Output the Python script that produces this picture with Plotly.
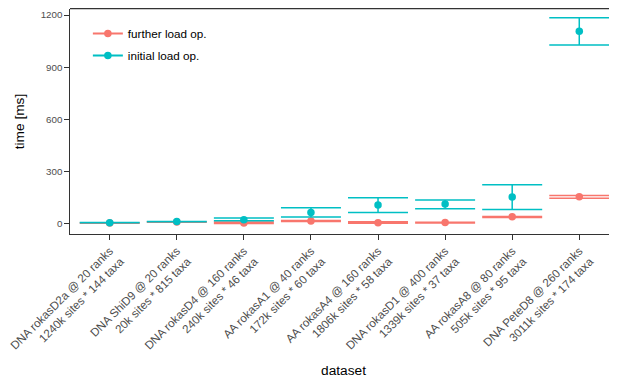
import plotly.graph_objects as go

categories = [
    "DNA rokasD2a @ 20 ranks<br>1240k sites * 144 taxa",
    "DNA ShiD9 @ 20 ranks<br>20k sites * 815 taxa",
    "DNA rokasD4 @ 160 ranks<br>240k sites * 46 taxa",
    "AA rokasA1 @ 40 ranks<br>172k sites * 60 taxa",
    "AA rokasA4 @ 160 ranks<br>1806k sites * 58 taxa",
    "DNA rokasD1 @ 400 ranks<br>1339k sites * 37 taxa",
    "AA rokasA8 @ 80 ranks<br>505k sites * 95 taxa",
    "DNA PeteD8 @ 260 ranks<br>3011k sites * 174 taxa",
]

further_mean = [4, 10, 4, 15, 6, 7, 40, 155]
further_lo = [3, 9, 1, 12, 2, 4, 35, 147]
further_hi = [5, 11, 10, 19, 11, 9, 42, 162]

initial_mean = [6, 12, 23, 65, 107, 113, 153, 1106]
initial_lo = [5, 11, 17, 38, 65, 86, 82, 1027]
initial_hi = [7, 13, 33, 92, 149, 136, 224, 1184]

series_names = ["further load op.", "initial load op."]
colors = ["#F8766D", "#00BFC4"]

# page has an 8px body margin, so the figure is laid out 8px smaller
W, H = 609, 373
ML, MR, MT, MB = 58, 0, 1, 147
plot_w = W - ML - MR
plot_h = H - MT - MB

x_idx = list(range(len(categories)))

fig = go.Figure()
for name, col, mean, lo, hi in [
    (series_names[0], colors[0], further_mean, further_lo, further_hi),
    (series_names[1], colors[1], initial_mean, initial_lo, initial_hi),
]:
    fig.add_trace(go.Scatter(
        x=x_idx, y=mean, mode="markers", name=name, showlegend=False,
        marker=dict(color=col, size=7.5),
        error_y=dict(type="data", symmetric=False,
                     array=[h - m for h, m in zip(hi, mean)],
                     arrayminus=[m - l for m, l in zip(mean, lo)],
                     color=col, thickness=1.5, width=30),
        cliponaxis=False,
    ))
for name, col in zip(series_names, colors):
    fig.add_trace(go.Scatter(
        x=[None], y=[None], mode="lines+markers", name=name,
        legendgroup=name,
        line=dict(color=col, width=2), marker=dict(color=col, size=7.5),
    ))

def py(px):
    return 1 - (px - MT) / plot_h

def pxx(px):
    return (px - ML) / plot_w

shapes = [
    dict(type="line", xref="paper", yref="paper", x0=0, x1=1, y0=py(0.6), y1=py(0.6),
         line=dict(color="#333333", width=1.2)),
]

fig.update_layout(
    width=W, height=H,
    margin=dict(l=ML, r=MR, t=MT, b=MB, pad=0),
    paper_bgcolor="white", plot_bgcolor="white",
    font=dict(family="Liberation Sans, Arial, sans-serif", color="black"),
    showlegend=True,
    legend=dict(x=pxx(76), y=py(11), xanchor="left", yanchor="top",
                bgcolor="rgba(0,0,0,0)", font=dict(size=11.7, color="black"),
                tracegroupgap=3, itemwidth=30),
    shapes=shapes,
    xaxis=dict(
        tickmode="array", tickvals=x_idx, ticktext=categories,
        range=[-40 / 67.57, (plot_w - 40) / 67.57],
        tickangle=-45, tickfont=dict(size=11.6, color="#4D4D4D"),
        ticklabeloverflow="allow",
        ticks="outside", ticklen=4.5, tickcolor="#333333", tickwidth=1,
        showline=True, linecolor="#333333", linewidth=1.2,
        showgrid=False, zeroline=False,
        title=dict(text="dataset", font=dict(size=13.7, color="black"), standoff=3),
    ),
    yaxis=dict(
        range=[-(234 - 223.7) / 0.1739, (223.7 - 9) / 0.1739],
        tickvals=[0, 300, 600, 900, 1200],
        tickfont=dict(size=9.8, color="#4D4D4D"),
        ticks="outside", ticklen=4.5, tickcolor="#333333", tickwidth=1,
        showline=True, linecolor="#333333", linewidth=1.2,
        showgrid=False, zeroline=False,
        title=dict(text="time [ms]", font=dict(size=13.7, color="black"), standoff=12),
    ),
)

fig.write_html("out.html")
